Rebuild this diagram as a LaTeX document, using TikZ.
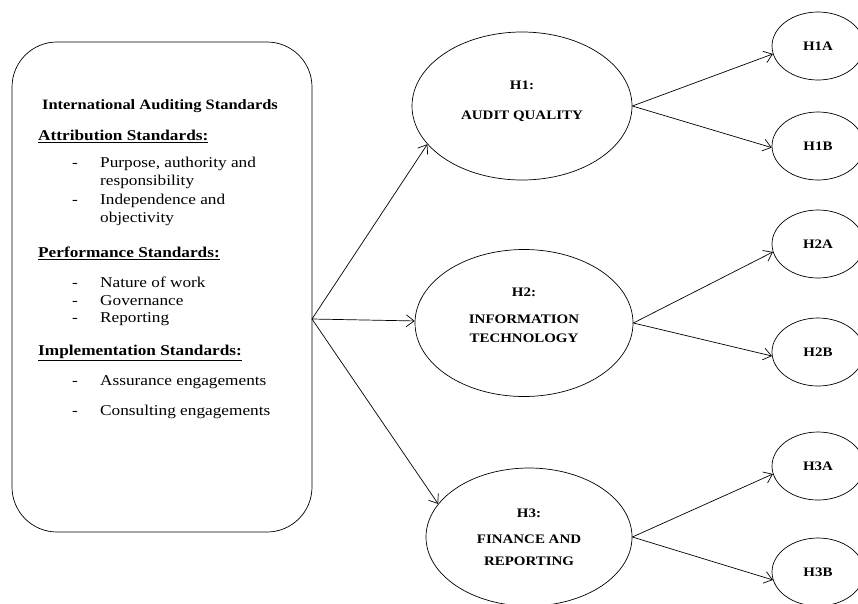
\documentclass[tikz,border=0pt]{standalone}
\usepackage{fontspec}
\setmainfont{Liberation Serif}[FakeStretch=1.15]
\usetikzlibrary{arrows.meta,shapes.geometric}

\tikzset{
  hyp/.style={draw, ellipse, line width=0.7pt, inner sep=0pt, minimum width=220pt, minimum height=148pt, align=center, font=\fontsize{13}{17}\selectfont\bfseries},
  subhyp/.style={draw, ellipse, line width=0.7pt, inner sep=0pt, minimum width=92pt, minimum height=68pt, font=\fontsize{13}{16}\selectfont\bfseries},
  txt/.style={anchor=mid west, inner sep=0pt, font=\fontsize{15}{18}\selectfont},
  head/.style={txt, font=\fontsize{15}{18}\selectfont\bfseries},
  arr/.style={-{Straight Barb[length=8pt,width=12pt]}, line width=0.7pt},
}

\begin{document}
\begin{tikzpicture}[x=1pt, y=-1pt]
\useasboundingbox (0,0) rectangle (858,603);

% left box with the standards
\node[draw, line width=0.7pt, rounded corners=45pt, minimum width=300pt, minimum height=490pt] (ias) at (162,287) {};

\node[head, anchor=mid, font=\fontsize{14.3}{18}\selectfont\bfseries] (title) at (160,107) {International Auditing Standards};

\node[head] (attr) at (38,138) {\underline{Attribution Standards:}};
\node[txt] (attrd1) at (72,165) {-};
\node[txt] (attr1) at (100,165) {Purpose, authority and};
\node[txt] (attr1b) at (100,183) {responsibility};
\node[txt] (attrd2) at (72,202) {-};
\node[txt] (attr2) at (100,202) {Independence and};
\node[txt] (attr2b) at (100,220) {objectivity};

\node[head] (perf) at (38,255) {\underline{Performance Standards:}};
\node[txt] (perfd1) at (72,285) {-};
\node[txt] (perf1) at (100,285) {Nature of work};
\node[txt] (perfd2) at (72,303) {-};
\node[txt] (perf2) at (100,303) {Governance};
\node[txt] (perfd3) at (72,320) {-};
\node[txt] (perf3) at (100,320) {Reporting};

\node[head] (impl) at (38,353) {\underline{Implementation Standards:}};
\node[txt] (impld1) at (72,383) {-};
\node[txt] (impl1) at (100,383) {Assurance engagements};
\node[txt] (impld2) at (72,413) {-};
\node[txt] (impl2) at (100,413) {Consulting engagements};

\coordinate (fork) at (312,319);

% hypotheses
\node[hyp] (H1) at (522,106) {H1:\\[13pt]AUDIT QUALITY\\[-6pt]~};
\node[hyp, minimum width=218pt, minimum height=147pt] (H2) at (524,323) {H2:\\[10pt]INFORMATION\\[2pt]TECHNOLOGY\\[-2pt]~};
\node[hyp, minimum width=206pt, minimum height=138pt] (H3) at (529,537) {H3:\\[9pt]FINANCE AND\\[5pt]REPORTING};

\node[subhyp] (H1A) at (818,46) {H1A};
\node[subhyp] (H1B) at (818,146) {H1B};
\node[subhyp] (H2A) at (818,244) {H2A};
\node[subhyp] (H2B) at (818,352) {H2B};
\node[subhyp] (H3A) at (818,466) {H3A};
\node[subhyp] (H3B) at (818,572) {H3B};

% connectors
\draw[arr] (fork) -- (H1.202);
\draw[arr] (fork) -- (H2);
\draw[arr] (fork) -- (H3.160);

\draw[arr] (H1.east) -- (H1A.190);
\draw[arr] (H1.east) -- (H1B.182);
\draw[arr] (H2.east) -- (H2A.190);
\draw[arr] (H2.east) -- (H2B.185);
\draw[arr] (H3.east) -- (H3A.190);
\draw[arr] (H3.east) -- (H3B.190);
\end{tikzpicture}
\end{document}
